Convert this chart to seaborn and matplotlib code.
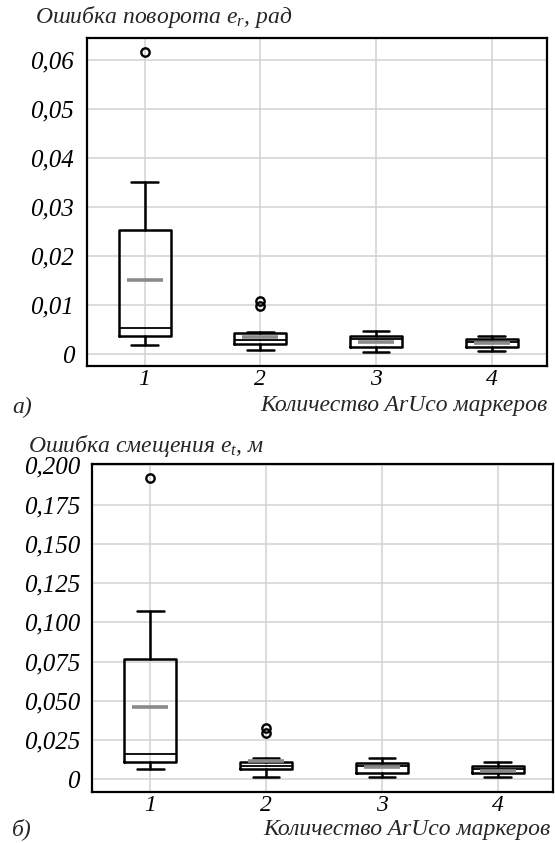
import matplotlib
matplotlib.use("Agg")
import matplotlib.pyplot as plt
import seaborn as sns

# Number of ArUco markers on the x axis
marker_counts = [1, 2, 3, 4]

# Rotation error e_r, rad: box statistics per marker count
rot_whislo = [0.0018, 0.0008, 0.0005, 0.0007]
rot_q1 = [0.0037, 0.0020, 0.0015, 0.0015]
rot_median = [0.0054, 0.0029, 0.0030, 0.0025]
rot_mean = [0.0151, 0.0035, 0.0025, 0.0022]
rot_q3 = [0.0253, 0.0042, 0.0037, 0.0030]
rot_whishi = [0.0352, 0.00455, 0.0048, 0.0037]
rot_fliers = [[0.0616], [0.0109, 0.0099], [], []]

# Translation error e_t, m: box statistics per marker count
tr_whislo = [0.0064, 0.0013, 0.0017, 0.0013]
tr_q1 = [0.0108, 0.0066, 0.0042, 0.0042]
tr_median = [0.0161, 0.0087, 0.0085, 0.0064]
tr_mean = [0.0461, 0.0117, 0.0077, 0.0055]
tr_q3 = [0.0767, 0.0112, 0.0106, 0.0085]
tr_whishi = [0.1075, 0.0138, 0.0138, 0.0112]
tr_fliers = [[0.1923], [0.0325, 0.0293], [], []]

rot_ticks = [0, 0.01, 0.02, 0.03, 0.04, 0.05, 0.06]
tr_ticks = [0, 0.025, 0.05, 0.075, 0.1, 0.125, 0.15, 0.175, 0.2]

sns.set_theme(style="whitegrid")
plt.rcParams["font.family"] = ["Liberation Serif", "DejaVu Serif"]
plt.rcParams["font.style"] = "italic"
plt.rcParams["mathtext.fontset"] = "custom"
plt.rcParams["mathtext.rm"] = "Liberation Serif"
plt.rcParams["mathtext.it"] = "Liberation Serif:italic"

YTICK_FS = 18
XTICK_FS = 17
TEXT_FS = 17


def build_stats(lo, q1, med, mean, q3, hi, fl):
    return [
        dict(whislo=a, q1=b, med=c, mean=d, q3=e, whishi=f, fliers=g, label=str(n))
        for a, b, c, d, e, f, g, n in zip(lo, q1, med, mean, q3, hi, fl, marker_counts)
    ]


def comma_label(v, decimals):
    if v == 0:
        return "0"
    return f"{v:.{decimals}f}".replace(".", ",")


def draw_panel(ax, stats, ticks, decimals, ylim):
    ax.bxp(
        stats,
        positions=marker_counts,
        widths=0.45,
        capwidths=0.23,
        showmeans=True,
        meanline=False,
        boxprops=dict(color="black", linewidth=1.8),
        whiskerprops=dict(color="black", linewidth=1.8),
        capprops=dict(color="black", linewidth=1.8),
        medianprops=dict(color="black", linewidth=1.3),
        meanprops=dict(marker="_", markersize=26, markeredgewidth=2.6,
                       markeredgecolor="#8a8a8a", markerfacecolor="#8a8a8a"),
        flierprops=dict(marker="o", markersize=6, markerfacecolor="none",
                        markeredgecolor="black", markeredgewidth=1.7),
        zorder=3,
    )
    ax.set_xlim(0.5, 4.48)
    ax.set_ylim(*ylim)
    ax.set_yticks(ticks)
    ax.set_yticklabels([comma_label(t, decimals) for t in ticks])
    ax.set_xticks(marker_counts)
    ax.set_xticklabels([str(n) for n in marker_counts])
    ax.tick_params(axis="both", length=0, colors="black")
    ax.tick_params(axis="y", pad=9, labelsize=YTICK_FS)
    ax.tick_params(axis="x", pad=2, labelsize=XTICK_FS)
    for lab in ax.get_xticklabels() + ax.get_yticklabels():
        lab.set_fontstyle("italic")
    ax.grid(True, color="#d2d2d2", linewidth=1.1)
    ax.set_axisbelow(True)
    for sp in ax.spines.values():
        sp.set_color("black")
        sp.set_linewidth(1.6)
    ax.set_facecolor("white")


fig = plt.figure(figsize=(5.55, 8.43), dpi=100)
fig.patch.set_facecolor("white")

ax1 = fig.add_axes([0.1562, 0.5658, 0.8299, 0.3891])
draw_panel(ax1,
           build_stats(rot_whislo, rot_q1, rot_median, rot_mean, rot_q3, rot_whishi, rot_fliers),
           rot_ticks, 2, (-0.00245, 0.0645))

ax2 = fig.add_axes([0.1663, 0.0601, 0.8306, 0.3891])
draw_panel(ax2,
           build_stats(tr_whislo, tr_q1, tr_median, tr_mean, tr_q3, tr_whishi, tr_fliers),
           tr_ticks, 3, (-0.0083, 0.2007))

fig.text(35 / 555, 1 - 17 / 843, "Ошибка поворота $e_r$, рад", fontsize=TEXT_FS,
         ha="left", va="center", style="italic")
fig.text(28 / 555, 1 - 446 / 843, "Ошибка смещения $e_t$, м", fontsize=TEXT_FS,
         ha="left", va="center", style="italic")
fig.text(548 / 555, 1 - 405 / 843, "Количество ArUco маркеров", fontsize=TEXT_FS,
         ha="right", va="center", style="italic")
fig.text(551 / 555, 1 - 830 / 843, "Количество ArUco маркеров", fontsize=TEXT_FS,
         ha="right", va="center", style="italic")
fig.text(12 / 555, 1 - 407 / 843, "а)", fontsize=TEXT_FS, ha="left", va="center", style="italic")
fig.text(12 / 555, 1 - 829 / 843, "б)", fontsize=TEXT_FS, ha="left", va="center", style="italic")

fig.savefig("out.png", dpi=100, facecolor="white")
